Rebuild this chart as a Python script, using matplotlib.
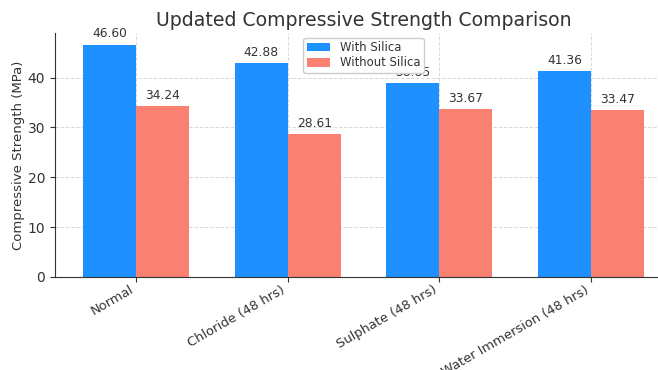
import matplotlib
matplotlib.use("Agg")
import matplotlib.pyplot as plt
import numpy as np

categories = ["Normal", "Chloride (48 hrs)", "Sulphate (48 hrs)", "Water Immersion (48 hrs)"]
with_silica = [46.60, 42.88, 38.85, 41.36]
without_silica = [34.24, 28.61, 33.67, 33.47]

plt.rcParams['font.family'] = ['DejaVu Sans']
txt = '#333333'

fig = plt.figure(figsize=(6.58, 3.70), dpi=100)
ax = fig.add_axes([55/658, 1 - 277/370, (672 - 55)/658, (277 - 33)/370])

x = np.arange(len(categories))
w = 0.35
b1 = ax.bar(x - w/2, with_silica, w, color='#1E90FF', label='With Silica', zorder=2)
b2 = ax.bar(x + w/2, without_silica, w, color='#FA8072', label='Without Silica', zorder=2)

for bars, vals in ((b1, with_silica), (b2, without_silica)):
    for r, v in zip(bars, vals):
        ax.annotate(f"{v:.2f}", (r.get_x() + r.get_width()/2, r.get_height()),
                    xytext=(0, 3), textcoords='offset points', ha='center', va='bottom',
                    fontsize=8.8, color=txt, zorder=1)

ax.set_xticks(x)
ax.set_xticklabels(categories, rotation=30, ha='right', fontsize=9.4, color=txt)
ax.tick_params(axis='y', labelsize=10, labelcolor=txt, color=txt)
ax.tick_params(axis='x', color=txt, pad=1)
ax.set_ylabel("Compressive Strength (MPa)", fontsize=9.5, color=txt, labelpad=2)
ax.set_title("Updated Compressive Strength Comparison", fontsize=13.6, color=txt, pad=5)
ax.grid(True, linestyle='--', color='#d8d8d8', linewidth=0.7, zorder=0)
ax.set_axisbelow(True)
for s in ('top', 'right'):
    ax.spines[s].set_visible(False)
ax.spines['left'].set_color(txt)
ax.spines['bottom'].set_color(txt)
leg = ax.legend(loc='upper center', fontsize=8.4, framealpha=1, edgecolor='#cccccc', labelcolor=txt,
                bbox_to_anchor=(0.5, 1.0), labelspacing=0.2, borderpad=0.3, borderaxespad=0.4)
leg.set_zorder(5)

fig.savefig("out.png", dpi=100)
